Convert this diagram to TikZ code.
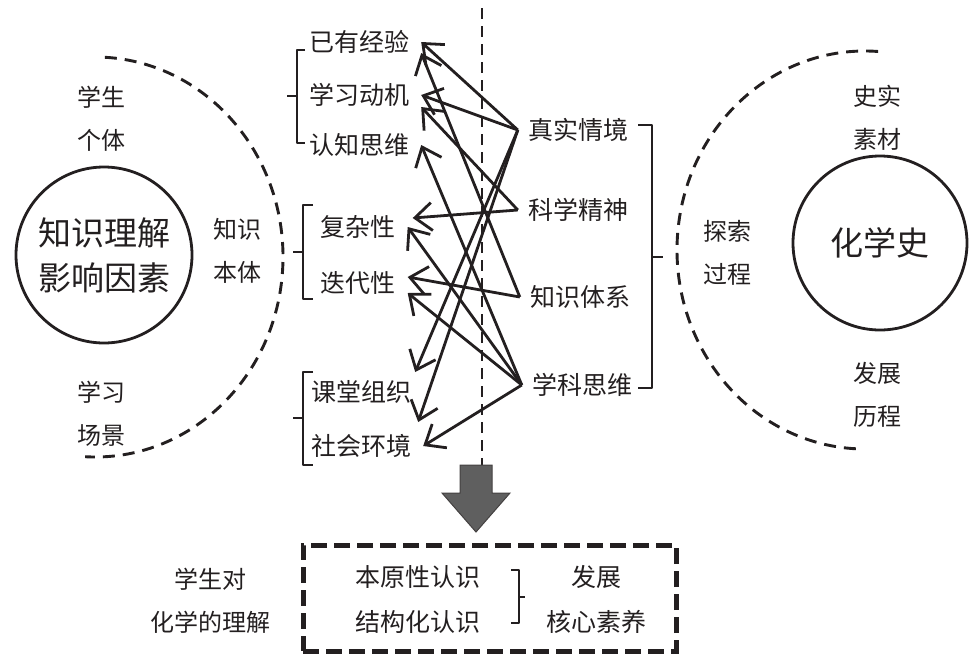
\documentclass[tikz,border=0pt]{standalone}
\usepackage{fontspec}
\setmainfont{Noto Sans CJK SC}
\usetikzlibrary{arrows.meta,positioning,calc}
\definecolor{ink}{HTML}{231F20}
\definecolor{block}{HTML}{5F5F5F}
\tikzset{
  >={Straight Barb[length=17pt,width=28pt]},
  every node/.style={text=ink,inner sep=0pt},
  lbl/.style={font=\fontsize{24}{43}\selectfont,align=center},
  item/.style={font=\fontsize{25}{30}\selectfont,inner xsep=12pt},
  src/.style={font=\fontsize{25}{30}\selectfont,inner xsep=10pt},
  core/.style={circle,draw=ink,line width=2.8pt,minimum size=176pt,font=\fontsize{33}{45}\selectfont,align=center},
  link/.style={->,line width=2.8pt,draw=ink},
  brace/.style={line width=2.7pt,draw=ink,line join=round},
  halo/.style={line width=2.9pt,draw=ink,dash pattern=on 12pt off 8pt},
  axisline/.style={line width=2.6pt,draw=ink,dash pattern=on 11pt off 7pt},
  goalbox/.style={draw=ink,line width=5pt,dash pattern=on 16pt off 7pt,minimum width=373pt,minimum height=106pt},
  bigarrow/.style={fill=block,draw=ink!85,line width=1pt},
}

\begin{document}
\begin{tikzpicture}[x=1pt,y=-1pt]
\useasboundingbox (0,0) rectangle (975,654);

\node[core] (know) at (104,255) {知识理解\\影响因素};
\node[core,minimum size=174pt] (hist) at (880,243) {化学史};

\draw[halo] (95,257) ++(87:188pt and 200pt) arc[start angle=87,end angle=-93,x radius=188pt,y radius=200pt];
\draw[halo] (865,250) ++(86:188pt and 199pt) arc[start angle=86,end angle=267.5,x radius=188pt,y radius=199pt];

\node[lbl] (indiv) at (101,119) {学生\\个体};
\node[lbl] (onto) at (237,251) {知识\\本体};
\node[lbl] (scene) at (101,414) {学习\\场景};
\node[lbl] (facts) at (877,118) {史实\\素材};
\node[lbl] (explore) at (727,253) {探索\\过程};
\node[lbl] (course) at (877,395) {发展\\历程};

\node[item] (exp) at (359,42) {已有经验};
\node[item] (mot) at (359,95) {学习动机};
\node[item] (cog) at (359,145) {认知思维};
\node[item] (cpx) at (358,227) {复杂性};
\node[item] (itr) at (358,283) {迭代性};
\node[item] (cls) at (361,392) {课堂组织};
\node[item] (soc) at (361,446) {社会环境};

\node[src] (sit) at (578,130) {真实情境};
\node[src] (spi) at (578,210) {科学精神};
\node[src] (sys) at (580,297) {知识体系};
\node[src] (thk) at (582,385) {学科思维};

\draw[brace] (305,50) -- (297,50) -- (297,143) -- (305,143) (297,96) -- (287,96);
\draw[brace] (313,205) -- (303,205) -- (303,299) -- (313,299) (303,252) -- (293,252);
\draw[brace] (313,372) -- (303,372) -- (303,465) -- (313,465) (303,418) -- (293,418);
\draw[brace] (638,125) -- (652,125) -- (652,388) -- (638,388) (652,257) -- (663,257);

\draw[axisline] (482,8) -- (482,465);

\foreach \a/\b in {sit/exp,sit/mot,thk/cog,thk/cpx,thk/soc}{\draw[link] (\a.west) -- (\b.east);}
\draw[link] (sys.west) -- ([yshift=-11pt]exp.east);
\draw[link] (spi.west) -- ([yshift=-12pt]mot.east);
\draw[link] (spi.west) -- ([xshift=5pt,yshift=9pt]cpx.east);
\draw[link] (sys.west) -- ([yshift=6pt]itr.east);
\draw[link] (thk.west) -- ([yshift=-10pt]itr.east);
\draw[link] (sit.west) -- ([xshift=-8pt,yshift=20pt]cls.east);
\draw[link] (sit.west) -- ([xshift=-5pt,yshift=24pt]soc.east);

\draw[bigarrow] (460,465) -- (492,465) -- (492,493) -- (510,493) -- (476,532) -- (442,493) -- (460,493) -- cycle;

\node[goalbox] (goal) at (489.5,598) {};
\node[lbl] (reader) at (210,601) {学生对\\化学的理解};
\node[lbl,font=\fontsize{25}{45}\selectfont] (views) at (418,600) {本原性认识\\结构化认识};
\node[lbl,font=\fontsize{25}{45}\selectfont] (core) at (596,600) {发展\\核心素养};
\draw[brace] (511,570) -- (519,570) -- (519,623) -- (511,623) (519,597) -- (525,597);

\end{tikzpicture}
\end{document}
